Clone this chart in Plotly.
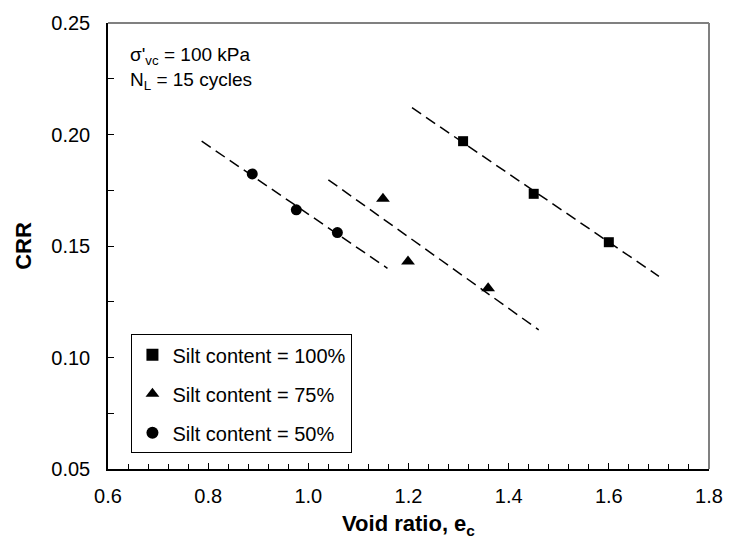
import plotly.graph_objects as go

# --- data ---
e_100 = [1.309, 1.450, 1.600]
crr_100 = [0.197, 0.1734, 0.1517]
fit_100_x = [1.207, 1.700]
fit_100_y = [0.212, 0.1364]

e_75 = [1.149, 1.199, 1.359]
crr_75 = [0.1712, 0.1431, 0.131]
fit_75_x = [1.040, 1.460]
fit_75_y = [0.1797, 0.1124]

e_50 = [0.888, 0.976, 1.058]
crr_50 = [0.1823, 0.1662, 0.156]
fit_50_x = [0.787, 1.158]
fit_50_y = [0.197, 0.140]

x_ticks = [0.6, 0.8, 1.0, 1.2, 1.4, 1.6, 1.8]
y_ticks = [0.05, 0.10, 0.15, 0.20, 0.25]

FONT = "Liberation Sans, Arial, sans-serif"
fig = go.Figure()

dash = "11px,6px"
for fx, fy in [(fit_100_x, fit_100_y), (fit_75_x, fit_75_y), (fit_50_x, fit_50_y)]:
    fig.add_trace(go.Scatter(x=fx, y=fy, mode="lines", showlegend=False,
                             line=dict(color="black", width=1.5, dash=dash),
                             hoverinfo="skip"))

series = [
    (e_100, crr_100, "Silt content = 100%", "square", 10, "g1"),
    (e_75, crr_75, "Silt content = 75%", "triangle-up", 12, "g2"),
    (e_50, crr_50, "Silt content = 50%", "circle", 11, "g3"),
]
for xs, ys, name, sym, sz, grp in series:
    fig.add_trace(go.Scatter(x=xs, y=ys, mode="markers", name=name, legendgroup=grp,
                             marker=dict(symbol=sym, size=sz, color="black")))

fig.update_layout(
    width=735, height=544,
    margin=dict(l=108, r=16, t=20, b=73),
    plot_bgcolor="white", paper_bgcolor="white",
    font=dict(family=FONT, size=20, color="black"),
    showlegend=True,
    legend=dict(x=0.039, y=0.302, xanchor="left", yanchor="top",
                bordercolor="black", borderwidth=1, bgcolor="white",
                font=dict(size=20), traceorder="grouped", tracegroupgap=10,
                itemsizing="constant"),
    xaxis=dict(range=[0.6, 1.8], tickvals=x_ticks,
               ticktext=[f"{v:.1f}" for v in x_ticks],
               ticks="inside", ticklen=6, tickcolor="black",
               showline=True, linecolor="black", linewidth=1.5,
               showgrid=False, zeroline=False, ticklabelstandoff=8,
               ticklabeloverflow="allow",
               minor=dict(dtick=0.04, ticks="inside", ticklen=5, tickcolor="black"),
               title=dict(text="<b>Void ratio, e<sub>c</sub></b>", font=dict(size=22), standoff=10)),
    yaxis=dict(range=[0.05, 0.25], tickvals=y_ticks,
               ticktext=[f"{v:.2f}" for v in y_ticks],
               ticks="inside", ticklen=6, tickcolor="black",
               showline=True, linecolor="black", linewidth=1.5,
               showgrid=False, zeroline=False, ticklabelstandoff=12,
               ticklabeloverflow="allow",
               minor=dict(dtick=0.025, ticks="inside", ticklen=6, tickcolor="black"),
               title=dict(text="<b>CRR</b>", font=dict(size=22), standoff=14)),
    shapes=[
        dict(type="line", xref="paper", yref="paper", x0=0, x1=1, y0=1, y1=1,
             line=dict(color="#808080", width=2)),
        dict(type="line", xref="paper", yref="paper", x0=1, x1=1, y0=0, y1=1,
             line=dict(color="#808080", width=2)),
    ],
    annotations=[
        dict(xref="paper", yref="paper", x=0.033, y=0.958, xanchor="left", yanchor="top",
             showarrow=False, align="left",
             text="σ'<sub>vc</sub> = 100 kPa<br>N<sub>L</sub> = 15 cycles",
             font=dict(size=19)),
    ],
)

fig.write_html("out.html", config={"displayModeBar": False},
               post_script="document.body.style.margin='0';document.body.style.overflow='hidden';")
